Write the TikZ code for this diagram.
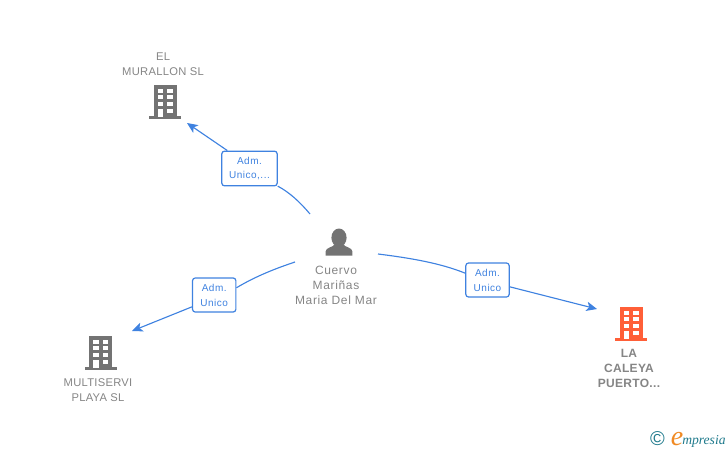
\documentclass[tikz,border=0pt]{standalone}
\usepackage{fontspec}
\setmainfont{Liberation Sans}
\newfontfamily\namefont[LetterSpace=2.5]{Liberation Sans}
\newfontfamily\personfont[LetterSpace=5.5]{Liberation Sans}
\newfontfamily\rolefont[LetterSpace=5]{Liberation Sans}
\newfontfamily\logofont{Liberation Serif}
\usepackage{xcolor}
\usetikzlibrary{arrows.meta,positioning}
\definecolor{linkblue}{HTML}{3F82E0}
\definecolor{icongray}{HTML}{737373}
\definecolor{textgray}{HTML}{858585}
\definecolor{iconorange}{HTML}{FF5F38}
\definecolor{logoteal}{HTML}{1F7A8C}
\definecolor{logoorange}{HTML}{F08A24}
\tikzset{
    link/.style={linkblue, line width=0.85pt},
    linkarrow/.style={link, -{Stealth[length=8pt,width=7pt,inset=2pt]}},
    rolebox/.style={draw=linkblue, line width=0.9pt, fill=white, rounded corners=2pt, align=center,
        text=linkblue, font=\rolefont\fontsize{7.5}{11.2}\selectfont, inner sep=0pt},
    namelabel/.style={align=center, text=textgray, font=\namefont\fontsize{8.4}{11.2}\selectfont, inner sep=0pt},
    pics/building/.style={code={
        \fill[#1] (-11.5,-1) rectangle (11.5,-33);
        \fill[#1] (-16,0.5) rectangle (16,-2);
        \foreach \y in {-29.5,-23,-16,-9}
            \foreach \x in {-7.5,2}
                \fill[white] (\x,\y) rectangle ++(5.5,4.3);
        \fill[white] (-7.5,-5) rectangle (-2,-1);
    }},
    pics/person/.style={code={
        \fill[#1] (0,-18) ellipse (7.6 and 9.2);
        \fill[#1] (-13.3,0) -- (-13.3,-4.5) .. controls (-13.3,-8) and (-6,-8.5) .. (-4,-11.5)
            -- (4,-11.5) .. controls (6,-8.5) and (13.3,-8) .. (13.3,-4.5) -- (13.3,0) -- cycle;
    }}
}
\begin{document}
\begin{tikzpicture}[x=0.75pt,y=-0.75pt]
    \useasboundingbox (0,0) rectangle (728,450);

    % company and person icons
    \pic at (165,118) {building=icongray};
    \pic at (100.5,369) {building=icongray};
    \pic at (631,340) {building=iconorange};
    \pic at (339,255.7) {person=icongray};

    \node[namelabel] (murallon) at (163,64) {EL\\MURALLON SL};
    \node[namelabel] (multiservi) at (98,390) {MULTISERVI\\PLAYA SL};
    \node[namelabel, font=\namefont\fontsize{9}{11.2}\selectfont\bfseries] (caleya) at (629,368) {LA\\CALEYA\\PUERTO...};
    \node[namelabel, font=\personfont\fontsize{9}{11.2}\selectfont] (cuervo) at (336,285) {Cuervo\\Mariñas\\Maria Del Mar};

    \node[rolebox, minimum width=41.5pt, minimum height=26pt] (roleA) at (249.5,168.5) {Adm.\\Unico,...};
    \node[rolebox, minimum width=32.5pt, minimum height=25.5pt] (roleB) at (214.2,295) {Adm.\\Unico};
    \node[rolebox, minimum width=32.5pt, minimum height=25.5pt] (roleC) at (487.5,280) {Adm.\\Unico};

    \coordinate (startA) at (310,214);
    \coordinate (endA) at (187,123);
    \coordinate (startB) at (295,262);
    \coordinate (endB) at (132,331);
    \coordinate (startC) at (378,254);
    \coordinate (endC) at (597,309);

    \draw[link] (startA) .. controls (300,202) and (289,192) .. (roleA.-32);
    \draw[linkarrow] (roleA.141) -- (endA);
    \draw[link] (startB) .. controls (277,268) and (256,276) .. (roleB.18);
    \draw[linkarrow] (roleB.-152) -- (endB);
    \draw[link] (startC) .. controls (410,258) and (440,263) .. (roleC.163);
    \draw[linkarrow] (roleC.-17) -- (endC);

    % logo
    \node[inner sep=0pt, text=logoteal, font=\fontsize{15}{15}\selectfont] (copyr) at (657.5,439) {©};
    \node[inner sep=0pt, anchor=base west, text=logoorange, font=\logofont\itshape\fontsize{21}{21}\selectfont] (logoe) at (670.5,445) {e};
    \node[inner sep=0pt, anchor=base west, text=logoteal, font=\logofont\itshape\fontsize{10.2}{10}\selectfont] (logotext) at (682,444) {mpresia};
\end{tikzpicture}
\end{document}
